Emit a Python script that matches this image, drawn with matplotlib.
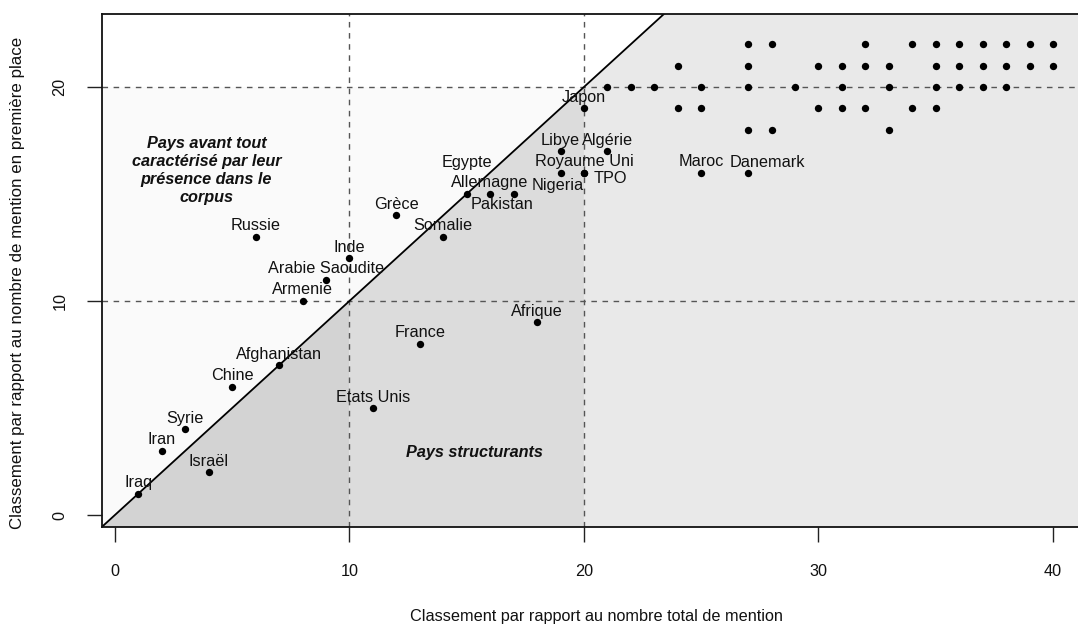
import matplotlib
matplotlib.use("Agg")
import matplotlib.pyplot as plt
from matplotlib.patches import Polygon

plt.rcParams['font.family'] = ['Liberation Sans', 'DejaVu Sans']

# ---- data ----
lab_names = ["Iraq", "Iran", "Syrie", "Israël", "Chine", "Afghanistan", "Russie",
             "Armenie", "Arabie Saoudite", "Inde", "Etats Unis", "Grèce", "France",
             "Somalie", "Egypte", "Allemagne", "Pakistan", "Afrique", "Libye",
             "Nigeria", "Royaume Uni", "TPO", "Japon", "Algérie", "Maroc", "Danemark"]
lab_x = [1, 2, 3, 4, 5, 7, 6, 8, 9, 10, 11, 12, 13, 14, 15, 16, 17, 18, 19,
         19, 20, 20, 20, 21, 25, 27]
lab_y = [1, 3, 4, 2, 6, 7, 13, 10, 11, 12, 5, 14, 8, 13, 15, 15, 15, 9, 17,
         16, 16, 16, 19, 17, 16, 16]

other_x = [27, 28, 32, 34, 35, 36, 37, 38, 39, 40,
           24, 27, 30, 31, 32, 33, 35, 36, 37, 38, 39, 40,
           21, 22, 23, 25, 27, 29, 31, 33, 35, 36, 37, 38,
           24, 25, 30, 31, 32, 34, 35,
           27, 28, 33]
other_y = [22] * 10 + [21] * 12 + [20] * 12 + [19] * 7 + [18] * 3

xticks = [0, 10, 20, 30, 40]
yticks = [0, 10, 20]
thresholds = [10, 20]

# label offsets in pixels (dx, dy) relative to the point; default is above
ABOVE = (0, 11)
label_offsets = {
    "Egypte": (0, 31),
    "Pakistan": (-12, -11),
    "Nigeria": (-3, -13),
    "TPO": (26, -6),
    "Danemark": (19, 10.5),
}

W, H, DPI = 1078, 626, 100
fig = plt.figure(figsize=(W / DPI, H / DPI), dpi=DPI)
left_px, right_px, top_px, bottom_px = 102, 1080, 14, 527
ax = fig.add_axes([left_px / W, 1 - bottom_px / H,
                   (right_px - left_px) / W, (bottom_px - top_px) / H])

x0, x1 = -0.55, 41.15
y0, y1 = -0.56, 23.41
ax.set_xlim(x0, x1)
ax.set_ylim(y0, y1)

# shaded regions
lo, hi = thresholds
ax.add_patch(Polygon([(x0, y0), (x0, hi), (hi, hi)], closed=True,
                     facecolor="#fafafa", edgecolor="none", zorder=0))
ax.add_patch(Polygon([(x0, y0), (lo, lo), (lo, y0)], closed=True,
                     facecolor="#d3d3d3", edgecolor="none", zorder=0))
ax.add_patch(Polygon([(lo, y0), (lo, lo), (hi, hi), (hi, y0)], closed=True,
                     facecolor="#dcdcdc", edgecolor="none", zorder=0))
ax.add_patch(Polygon([(hi, y0), (hi, hi), (y1, y1), (x1, y1), (x1, y0)], closed=True,
                     facecolor="#e9e9e9", edgecolor="none", zorder=0))

# reference lines
for t in thresholds:
    ax.axvline(t, color="#555555", lw=1.0, ls=(0, (4, 4)), zorder=1)
    ax.axhline(t, color="#555555", lw=1.0, ls=(0, (4, 4)), zorder=1)
ax.axline((0, 0), (1, 1), color="black", lw=1.3, zorder=2)

# points
ax.scatter(other_x, other_y, s=28, color="black", zorder=3, linewidths=0)
ax.scatter(lab_x, lab_y, s=28, color="black", zorder=3, linewidths=0)

FS = 11.7
for name, x, y in zip(lab_names, lab_x, lab_y):
    dx, dy = label_offsets.get(name, ABOVE)
    ax.annotate(name, (x, y), xytext=(dx * 0.72, dy * 0.72), textcoords="offset points",
                ha="center", va="center", fontsize=FS, color="#111111", zorder=4)

ax.text(3.9, 16.1, "Pays avant tout\ncaractérisé par leur\nprésence dans le\ncorpus",
        ha="center", va="center", fontsize=FS, fontweight="bold", fontstyle="italic",
        linespacing=1.25, color="#111111")
ax.text(15.35, 2.93, "Pays structurants", ha="center", va="center", fontsize=FS,
        fontweight="bold", fontstyle="italic", color="#111111")

# axes styling (R-like)
ax.set_xticks(xticks)
ax.set_yticks(yticks)
ax.tick_params(axis="both", direction="out", length=11, width=1.0, color="#222222",
               labelsize=FS, labelcolor="#111111")
ax.tick_params(axis="x", pad=16)
ax.tick_params(axis="y", pad=14)
for lbl in ax.get_yticklabels():
    lbl.set_rotation(90)
    lbl.set_va("center")
for s in ax.spines.values():
    s.set_linewidth(1.3)
    s.set_color("#111111")

fig.text(596 / W, 1 - 617 / H,
         "Classement par rapport au nombre total de mention",
         ha="center", va="center", fontsize=FS, color="#111111")
fig.text(18 / W, 1 - 283 / H,
         "Classement par rapport au nombre de mention en première place",
         ha="center", va="center", rotation=90, fontsize=12.2, color="#111111")

fig.savefig("out.png", dpi=DPI)
